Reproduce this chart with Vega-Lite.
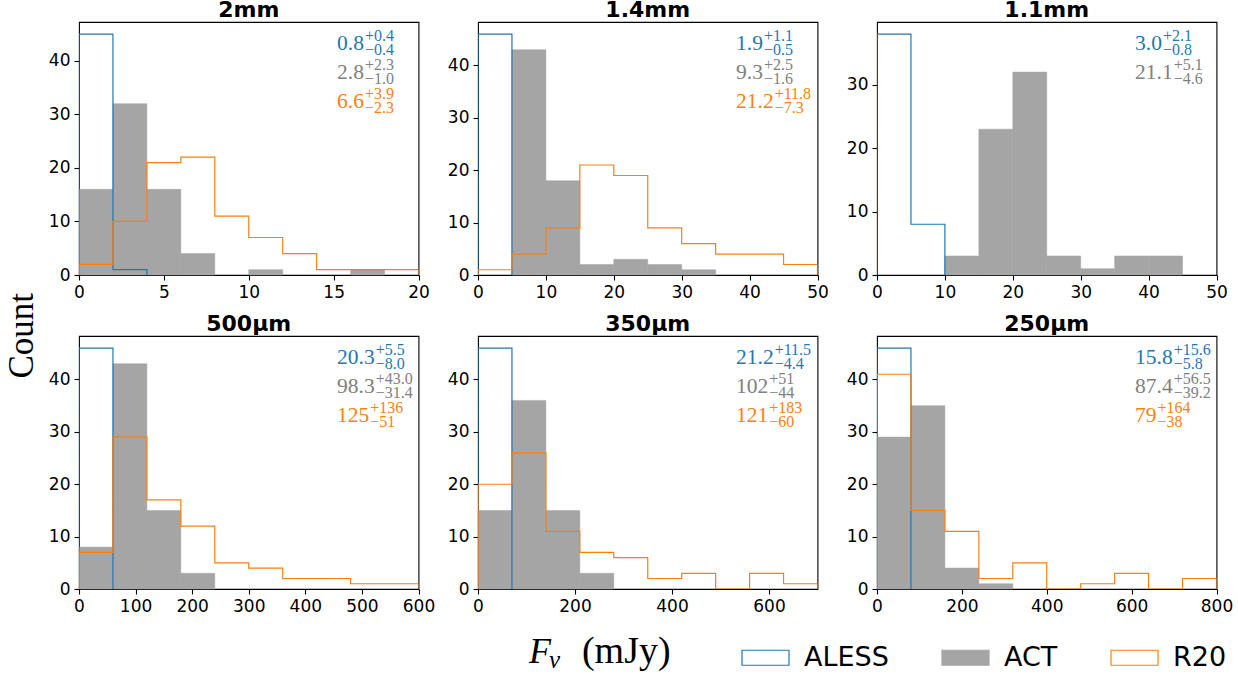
{
"$schema": "https://vega.github.io/schema/vega-lite/v6.json",
"padding": {"left": 4, "top": -3, "right": 5, "bottom": 2},
"background": "white",
"title": {"text": "Count", "orient": "left", "anchor": "middle", "font": "Liberation Serif", "fontSize": 35, "fontWeight": "normal", "baseline": "alphabetic", "offset": -20, "color": "#000000", "frame": "bounds"},
"datasets": {
"act": [
{"panel":"2mm","series":"ACT","x0":0,"x1":2,"count":16},{"panel":"2mm","series":"ACT","x0":2,"x1":4,"count":32},{"panel":"2mm","series":"ACT","x0":4,"x1":6,"count":16},{"panel":"2mm","series":"ACT","x0":6,"x1":8,"count":4},{"panel":"2mm","series":"ACT","x0":10,"x1":12,"count":1},{"panel":"2mm","series":"ACT","x0":16,"x1":18,"count":1},
{"panel":"1.4mm","series":"ACT","x0":5,"x1":10,"count":43},{"panel":"1.4mm","series":"ACT","x0":10,"x1":15,"count":18},{"panel":"1.4mm","series":"ACT","x0":15,"x1":20,"count":2},{"panel":"1.4mm","series":"ACT","x0":20,"x1":25,"count":3},{"panel":"1.4mm","series":"ACT","x0":25,"x1":30,"count":2},{"panel":"1.4mm","series":"ACT","x0":30,"x1":35,"count":1},
{"panel":"1.1mm","series":"ACT","x0":10,"x1":15,"count":3},{"panel":"1.1mm","series":"ACT","x0":15,"x1":20,"count":23},{"panel":"1.1mm","series":"ACT","x0":20,"x1":25,"count":32},{"panel":"1.1mm","series":"ACT","x0":25,"x1":30,"count":3},{"panel":"1.1mm","series":"ACT","x0":30,"x1":35,"count":1},{"panel":"1.1mm","series":"ACT","x0":35,"x1":40,"count":3},{"panel":"1.1mm","series":"ACT","x0":40,"x1":45,"count":3},
{"panel":"500","series":"ACT","x0":0,"x1":60,"count":8},{"panel":"500","series":"ACT","x0":60,"x1":120,"count":43},{"panel":"500","series":"ACT","x0":120,"x1":180,"count":15},{"panel":"500","series":"ACT","x0":180,"x1":240,"count":3},
{"panel":"350","series":"ACT","x0":0,"x1":70,"count":15},{"panel":"350","series":"ACT","x0":70,"x1":140,"count":36},{"panel":"350","series":"ACT","x0":140,"x1":210,"count":15},{"panel":"350","series":"ACT","x0":210,"x1":280,"count":3},
{"panel":"250","series":"ACT","x0":0,"x1":80,"count":29},{"panel":"250","series":"ACT","x0":80,"x1":160,"count":35},{"panel":"250","series":"ACT","x0":160,"x1":240,"count":4},{"panel":"250","series":"ACT","x0":240,"x1":320,"count":1}
],
"steps": [
{"panel":"2mm","series":"ALESS","i":0,"x":0,"y":0},{"panel":"2mm","series":"ALESS","i":1,"x":0,"y":45},{"panel":"2mm","series":"ALESS","i":2,"x":2,"y":1},{"panel":"2mm","series":"ALESS","i":3,"x":4,"y":0},
{"panel":"2mm","series":"R20","i":0,"x":0,"y":0},{"panel":"2mm","series":"R20","i":1,"x":0,"y":2},{"panel":"2mm","series":"R20","i":2,"x":2,"y":10},{"panel":"2mm","series":"R20","i":3,"x":4,"y":21},{"panel":"2mm","series":"R20","i":4,"x":6,"y":22},{"panel":"2mm","series":"R20","i":5,"x":8,"y":11},{"panel":"2mm","series":"R20","i":6,"x":10,"y":7},{"panel":"2mm","series":"R20","i":7,"x":12,"y":4},{"panel":"2mm","series":"R20","i":8,"x":14,"y":1},{"panel":"2mm","series":"R20","i":9,"x":16,"y":1},{"panel":"2mm","series":"R20","i":10,"x":18,"y":1},{"panel":"2mm","series":"R20","i":11,"x":20,"y":0},
{"panel":"1.4mm","series":"ALESS","i":0,"x":0,"y":0},{"panel":"1.4mm","series":"ALESS","i":1,"x":0,"y":46},{"panel":"1.4mm","series":"ALESS","i":2,"x":5,"y":0},
{"panel":"1.4mm","series":"R20","i":0,"x":0,"y":0},{"panel":"1.4mm","series":"R20","i":1,"x":0,"y":1},{"panel":"1.4mm","series":"R20","i":2,"x":5,"y":4},{"panel":"1.4mm","series":"R20","i":3,"x":10,"y":9},{"panel":"1.4mm","series":"R20","i":4,"x":15,"y":21},{"panel":"1.4mm","series":"R20","i":5,"x":20,"y":19},{"panel":"1.4mm","series":"R20","i":6,"x":25,"y":9},{"panel":"1.4mm","series":"R20","i":7,"x":30,"y":6},{"panel":"1.4mm","series":"R20","i":8,"x":35,"y":4},{"panel":"1.4mm","series":"R20","i":9,"x":40,"y":4},{"panel":"1.4mm","series":"R20","i":10,"x":45,"y":2},{"panel":"1.4mm","series":"R20","i":11,"x":50,"y":0},
{"panel":"1.1mm","series":"ALESS","i":0,"x":0,"y":0},{"panel":"1.1mm","series":"ALESS","i":1,"x":0,"y":38},{"panel":"1.1mm","series":"ALESS","i":2,"x":5,"y":8},{"panel":"1.1mm","series":"ALESS","i":3,"x":10,"y":0},
{"panel":"500","series":"ALESS","i":0,"x":0,"y":0},{"panel":"500","series":"ALESS","i":1,"x":0,"y":46},{"panel":"500","series":"ALESS","i":2,"x":60,"y":0},
{"panel":"500","series":"R20","i":0,"x":0,"y":0},{"panel":"500","series":"R20","i":1,"x":0,"y":7},{"panel":"500","series":"R20","i":2,"x":60,"y":29},{"panel":"500","series":"R20","i":3,"x":120,"y":17},{"panel":"500","series":"R20","i":4,"x":180,"y":12},{"panel":"500","series":"R20","i":5,"x":240,"y":5},{"panel":"500","series":"R20","i":6,"x":300,"y":4},{"panel":"500","series":"R20","i":7,"x":360,"y":2},{"panel":"500","series":"R20","i":8,"x":420,"y":2},{"panel":"500","series":"R20","i":9,"x":480,"y":1},{"panel":"500","series":"R20","i":10,"x":540,"y":1},{"panel":"500","series":"R20","i":11,"x":600,"y":0},
{"panel":"350","series":"ALESS","i":0,"x":0,"y":0},{"panel":"350","series":"ALESS","i":1,"x":0,"y":46},{"panel":"350","series":"ALESS","i":2,"x":70,"y":0},
{"panel":"350","series":"R20","i":0,"x":0,"y":0},{"panel":"350","series":"R20","i":1,"x":0,"y":20},{"panel":"350","series":"R20","i":2,"x":70,"y":26},{"panel":"350","series":"R20","i":3,"x":140,"y":11},{"panel":"350","series":"R20","i":4,"x":210,"y":7},{"panel":"350","series":"R20","i":5,"x":280,"y":6},{"panel":"350","series":"R20","i":6,"x":350,"y":2},{"panel":"350","series":"R20","i":7,"x":420,"y":3},{"panel":"350","series":"R20","i":8,"x":490,"y":0},{"panel":"350","series":"R20","i":9,"x":560,"y":3},{"panel":"350","series":"R20","i":10,"x":630,"y":1},{"panel":"350","series":"R20","i":11,"x":700,"y":0},
{"panel":"250","series":"ALESS","i":0,"x":0,"y":0},{"panel":"250","series":"ALESS","i":1,"x":0,"y":46},{"panel":"250","series":"ALESS","i":2,"x":80,"y":0},
{"panel":"250","series":"R20","i":0,"x":0,"y":0},{"panel":"250","series":"R20","i":1,"x":0,"y":41},{"panel":"250","series":"R20","i":2,"x":80,"y":15},{"panel":"250","series":"R20","i":3,"x":160,"y":11},{"panel":"250","series":"R20","i":4,"x":240,"y":2},{"panel":"250","series":"R20","i":5,"x":320,"y":5},{"panel":"250","series":"R20","i":6,"x":400,"y":0},{"panel":"250","series":"R20","i":7,"x":480,"y":1},{"panel":"250","series":"R20","i":8,"x":560,"y":3},{"panel":"250","series":"R20","i":9,"x":640,"y":0},{"panel":"250","series":"R20","i":10,"x":720,"y":2},{"panel":"250","series":"R20","i":11,"x":800,"y":0}
],
"ann": [
{"panel":"2mm","series":"ALESS","row":1,"main":"0.8","sup":"+0.4","sub":"−0.4"},{"panel":"2mm","series":"ACT","row":2,"main":"2.8","sup":"+2.3","sub":"−1.0"},{"panel":"2mm","series":"R20","row":3,"main":"6.6","sup":"+3.9","sub":"−2.3"},
{"panel":"1.4mm","series":"ALESS","row":1,"main":"1.9","sup":"+1.1","sub":"−0.5"},{"panel":"1.4mm","series":"ACT","row":2,"main":"9.3","sup":"+2.5","sub":"−1.6"},{"panel":"1.4mm","series":"R20","row":3,"main":"21.2","sup":"+11.8","sub":"−7.3"},
{"panel":"1.1mm","series":"ALESS","row":1,"main":"3.0","sup":"+2.1","sub":"−0.8"},{"panel":"1.1mm","series":"ACT","row":2,"main":"21.1","sup":"+5.1","sub":"−4.6"},
{"panel":"500","series":"ALESS","row":1,"main":"20.3","sup":"+5.5","sub":"−8.0"},{"panel":"500","series":"ACT","row":2,"main":"98.3","sup":"+43.0","sub":"−31.4"},{"panel":"500","series":"R20","row":3,"main":"125","sup":"+136","sub":"−51"},
{"panel":"350","series":"ALESS","row":1,"main":"21.2","sup":"+11.5","sub":"−4.4"},{"panel":"350","series":"ACT","row":2,"main":"102","sup":"+51","sub":"−44"},{"panel":"350","series":"R20","row":3,"main":"121","sup":"+183","sub":"−60"},
{"panel":"250","series":"ALESS","row":1,"main":"15.8","sup":"+15.6","sub":"−5.8"},{"panel":"250","series":"ACT","row":2,"main":"87.4","sup":"+56.5","sub":"−39.2"},{"panel":"250","series":"R20","row":3,"main":"79","sup":"+164","sub":"−38"}
],
"xlab": [{"t":"x"}]
},
"columns": 3,
"bounds": "flush",
"spacing": {"row": 61, "column": 59},
"concat": [
{"width": 339.5, "height": 253, "title": {"text": "2mm"},
 "resolve": {"scale": {"y": "independent"}},
 "layer": [
  {"data": {"name": "act"}, "transform": [{"filter": "datum.panel === '2mm'"}], "mark": {"type": "rect", "stroke": "#a5a5a5", "strokeWidth": 0.5},
   "encoding": {"x": {"field": "x0", "type": "quantitative", "title": null, "scale": {"domain": [0, 20], "nice": false, "zero": false}, "axis": {"values": [0,5,10,15,20]}},
    "x2": {"field": "x1"},
    "y": {"field": "count", "type": "quantitative", "title": null, "scale": {"domain": [0, 47.25], "nice": false}, "axis": {"values": [0,10,20,30,40]}},
    "y2": {"datum": 0},
    "fill": {"field": "series", "type": "nominal", "title": null, "scale": {"domain": ["ALESS","ACT","R20"], "range": ["#ffffff","#a5a5a5","#ffffff"]}, "legend": {"symbolType": "M-1,-0.32H1V0.32H-1Z", "symbolSize": 2209, "direction": "horizontal", "orient": "none", "legendX": 662, "legendY": 611}}}},
  {"data": {"name": "steps"}, "transform": [{"filter": "datum.panel === '2mm'"}], "mark": {"type": "line", "interpolate": "step-after", "strokeWidth": 1.2, "clip": true},
   "encoding": {"x": {"field": "x", "type": "quantitative", "scale": {"domain": [0, 20], "nice": false, "zero": false}},
    "y": {"field": "y", "type": "quantitative", "scale": {"domain": [0, 47.25], "nice": false}, "axis": null},
    "order": {"field": "i", "type": "quantitative"},
    "stroke": {"field": "series", "type": "nominal", "title": null, "scale": {"domain": ["ALESS","ACT","R20"], "range": ["#1f77b4","#a5a5a5","#ff7f0e"]}, "legend": {"symbolType": "M-1,-0.32H1V0.32H-1Z", "symbolSize": 2209, "direction": "horizontal", "orient": "none", "legendX": 662, "legendY": 611}}}},
  {"data": {"name": "ann"}, "transform": [{"filter": "datum.panel === '2mm'"}], "mark": {"type": "text", "align": "left", "baseline": "alphabetic", "font": "Liberation Serif", "fontSize": 21.5, "dy": -1},
   "encoding": {"x": {"datum": 15.2, "type": "quantitative"}, "y": {"field": "row", "type": "quantitative", "scale": {"domain": [0, 8.724], "reverse": true, "nice": false, "zero": false}, "axis": null}, "text": {"field": "main"}, "color": {"field": "series", "type": "nominal", "scale": {"domain": ["ALESS","ACT","R20"], "range": ["#1f77b4","#808080","#ff7f0e"]}, "legend": null}}},
  {"data": {"name": "ann"}, "transform": [{"filter": "datum.panel === '2mm'"}], "mark": {"type": "text", "align": "left", "baseline": "alphabetic", "font": "Liberation Serif", "fontSize": 16, "dy": -10, "dx": {"expr": "10.75*(length(datum.main) - (indexof(datum.main, '.') >= 0 ? 0.5 : 0)) + 1"}},
   "encoding": {"x": {"datum": 15.2, "type": "quantitative"}, "y": {"field": "row", "type": "quantitative", "scale": {"domain": [0, 8.724], "reverse": true, "nice": false, "zero": false}, "axis": null}, "text": {"field": "sup"}, "color": {"field": "series", "type": "nominal", "legend": null}}},
  {"data": {"name": "ann"}, "transform": [{"filter": "datum.panel === '2mm'"}], "mark": {"type": "text", "align": "left", "baseline": "alphabetic", "font": "Liberation Serif", "fontSize": 16, "dy": 4, "dx": {"expr": "10.75*(length(datum.main) - (indexof(datum.main, '.') >= 0 ? 0.5 : 0)) + 1"}},
   "encoding": {"x": {"datum": 15.2, "type": "quantitative"}, "y": {"field": "row", "type": "quantitative", "scale": {"domain": [0, 8.724], "reverse": true, "nice": false, "zero": false}, "axis": null}, "text": {"field": "sub"}, "color": {"field": "series", "type": "nominal", "legend": null}}}
 ]},
{"width": 339.5, "height": 253, "title": {"text": "1.4mm"},
 "resolve": {"scale": {"y": "independent"}},
 "layer": [
  {"data": {"name": "act"}, "transform": [{"filter": "datum.panel === '1.4mm'"}], "mark": {"type": "rect", "stroke": "#a5a5a5", "strokeWidth": 0.5},
   "encoding": {"x": {"field": "x0", "type": "quantitative", "title": null, "scale": {"domain": [0, 50], "nice": false, "zero": false}, "axis": {"values": [0,10,20,30,40,50]}},
    "x2": {"field": "x1"},
    "y": {"field": "count", "type": "quantitative", "title": null, "scale": {"domain": [0, 48.3], "nice": false}, "axis": {"values": [0,10,20,30,40]}},
    "y2": {"datum": 0},
    "fill": {"field": "series", "type": "nominal", "title": null, "legend": {"symbolType": "M-1,-0.32H1V0.32H-1Z", "symbolSize": 2209, "direction": "horizontal", "orient": "none", "legendX": 662, "legendY": 611}}}},
  {"data": {"name": "steps"}, "transform": [{"filter": "datum.panel === '1.4mm'"}], "mark": {"type": "line", "interpolate": "step-after", "strokeWidth": 1.2, "clip": true},
   "encoding": {"x": {"field": "x", "type": "quantitative", "scale": {"domain": [0, 50], "nice": false, "zero": false}},
    "y": {"field": "y", "type": "quantitative", "scale": {"domain": [0, 48.3], "nice": false}, "axis": null},
    "order": {"field": "i", "type": "quantitative"},
    "stroke": {"field": "series", "type": "nominal", "title": null, "legend": {"symbolType": "M-1,-0.32H1V0.32H-1Z", "symbolSize": 2209, "direction": "horizontal", "orient": "none", "legendX": 662, "legendY": 611}}}},
  {"data": {"name": "ann"}, "transform": [{"filter": "datum.panel === '1.4mm'"}], "mark": {"type": "text", "align": "left", "baseline": "alphabetic", "font": "Liberation Serif", "fontSize": 21.5, "dy": -1},
   "encoding": {"x": {"datum": 38, "type": "quantitative"}, "y": {"field": "row", "type": "quantitative", "scale": {"domain": [0, 8.724], "reverse": true, "nice": false, "zero": false}, "axis": null}, "text": {"field": "main"}, "color": {"field": "series", "type": "nominal", "legend": null}}},
  {"data": {"name": "ann"}, "transform": [{"filter": "datum.panel === '1.4mm'"}], "mark": {"type": "text", "align": "left", "baseline": "alphabetic", "font": "Liberation Serif", "fontSize": 16, "dy": -10, "dx": {"expr": "10.75*(length(datum.main) - (indexof(datum.main, '.') >= 0 ? 0.5 : 0)) + 1"}},
   "encoding": {"x": {"datum": 38, "type": "quantitative"}, "y": {"field": "row", "type": "quantitative", "scale": {"domain": [0, 8.724], "reverse": true, "nice": false, "zero": false}, "axis": null}, "text": {"field": "sup"}, "color": {"field": "series", "type": "nominal", "legend": null}}},
  {"data": {"name": "ann"}, "transform": [{"filter": "datum.panel === '1.4mm'"}], "mark": {"type": "text", "align": "left", "baseline": "alphabetic", "font": "Liberation Serif", "fontSize": 16, "dy": 4, "dx": {"expr": "10.75*(length(datum.main) - (indexof(datum.main, '.') >= 0 ? 0.5 : 0)) + 1"}},
   "encoding": {"x": {"datum": 38, "type": "quantitative"}, "y": {"field": "row", "type": "quantitative", "scale": {"domain": [0, 8.724], "reverse": true, "nice": false, "zero": false}, "axis": null}, "text": {"field": "sub"}, "color": {"field": "series", "type": "nominal", "legend": null}}}
 ]},
{"width": 339.5, "height": 253, "title": {"text": "1.1mm"},
 "resolve": {"scale": {"y": "independent"}},
 "layer": [
  {"data": {"name": "act"}, "transform": [{"filter": "datum.panel === '1.1mm'"}], "mark": {"type": "rect", "stroke": "#a5a5a5", "strokeWidth": 0.5},
   "encoding": {"x": {"field": "x0", "type": "quantitative", "title": null, "scale": {"domain": [0, 50], "nice": false, "zero": false}, "axis": {"values": [0,10,20,30,40,50]}},
    "x2": {"field": "x1"},
    "y": {"field": "count", "type": "quantitative", "title": null, "scale": {"domain": [0, 39.9], "nice": false}, "axis": {"values": [0,10,20,30]}},
    "y2": {"datum": 0},
    "fill": {"field": "series", "type": "nominal", "title": null, "legend": {"symbolType": "M-1,-0.32H1V0.32H-1Z", "symbolSize": 2209, "direction": "horizontal", "orient": "none", "legendX": 662, "legendY": 611}}}},
  {"data": {"name": "steps"}, "transform": [{"filter": "datum.panel === '1.1mm'"}], "mark": {"type": "line", "interpolate": "step-after", "strokeWidth": 1.2, "clip": true},
   "encoding": {"x": {"field": "x", "type": "quantitative", "scale": {"domain": [0, 50], "nice": false, "zero": false}},
    "y": {"field": "y", "type": "quantitative", "scale": {"domain": [0, 39.9], "nice": false}, "axis": null},
    "order": {"field": "i", "type": "quantitative"},
    "stroke": {"field": "series", "type": "nominal", "title": null, "legend": {"symbolType": "M-1,-0.32H1V0.32H-1Z", "symbolSize": 2209, "direction": "horizontal", "orient": "none", "legendX": 662, "legendY": 611}}}},
  {"data": {"name": "ann"}, "transform": [{"filter": "datum.panel === '1.1mm'"}], "mark": {"type": "text", "align": "left", "baseline": "alphabetic", "font": "Liberation Serif", "fontSize": 21.5, "dy": -1},
   "encoding": {"x": {"datum": 38, "type": "quantitative"}, "y": {"field": "row", "type": "quantitative", "scale": {"domain": [0, 8.724], "reverse": true, "nice": false, "zero": false}, "axis": null}, "text": {"field": "main"}, "color": {"field": "series", "type": "nominal", "legend": null}}},
  {"data": {"name": "ann"}, "transform": [{"filter": "datum.panel === '1.1mm'"}], "mark": {"type": "text", "align": "left", "baseline": "alphabetic", "font": "Liberation Serif", "fontSize": 16, "dy": -10, "dx": {"expr": "10.75*(length(datum.main) - (indexof(datum.main, '.') >= 0 ? 0.5 : 0)) + 1"}},
   "encoding": {"x": {"datum": 38, "type": "quantitative"}, "y": {"field": "row", "type": "quantitative", "scale": {"domain": [0, 8.724], "reverse": true, "nice": false, "zero": false}, "axis": null}, "text": {"field": "sup"}, "color": {"field": "series", "type": "nominal", "legend": null}}},
  {"data": {"name": "ann"}, "transform": [{"filter": "datum.panel === '1.1mm'"}], "mark": {"type": "text", "align": "left", "baseline": "alphabetic", "font": "Liberation Serif", "fontSize": 16, "dy": 4, "dx": {"expr": "10.75*(length(datum.main) - (indexof(datum.main, '.') >= 0 ? 0.5 : 0)) + 1"}},
   "encoding": {"x": {"datum": 38, "type": "quantitative"}, "y": {"field": "row", "type": "quantitative", "scale": {"domain": [0, 8.724], "reverse": true, "nice": false, "zero": false}, "axis": null}, "text": {"field": "sub"}, "color": {"field": "series", "type": "nominal", "legend": null}}}
 ]},
{"width": 339.5, "height": 253, "title": {"text": "500μm"},
 "resolve": {"scale": {"y": "independent"}},
 "layer": [
  {"data": {"name": "act"}, "transform": [{"filter": "datum.panel === '500'"}], "mark": {"type": "rect", "stroke": "#a5a5a5", "strokeWidth": 0.5},
   "encoding": {"x": {"field": "x0", "type": "quantitative", "title": null, "scale": {"domain": [0, 600], "nice": false, "zero": false}, "axis": {"values": [0,100,200,300,400,500,600]}},
    "x2": {"field": "x1"},
    "y": {"field": "count", "type": "quantitative", "title": null, "scale": {"domain": [0, 48.3], "nice": false}, "axis": {"values": [0,10,20,30,40]}},
    "y2": {"datum": 0},
    "fill": {"field": "series", "type": "nominal", "title": null, "legend": {"symbolType": "M-1,-0.32H1V0.32H-1Z", "symbolSize": 2209, "direction": "horizontal", "orient": "none", "legendX": 662, "legendY": 611}}}},
  {"data": {"name": "steps"}, "transform": [{"filter": "datum.panel === '500'"}], "mark": {"type": "line", "interpolate": "step-after", "strokeWidth": 1.2, "clip": true},
   "encoding": {"x": {"field": "x", "type": "quantitative", "scale": {"domain": [0, 600], "nice": false, "zero": false}},
    "y": {"field": "y", "type": "quantitative", "scale": {"domain": [0, 48.3], "nice": false}, "axis": null},
    "order": {"field": "i", "type": "quantitative"},
    "stroke": {"field": "series", "type": "nominal", "title": null, "legend": {"symbolType": "M-1,-0.32H1V0.32H-1Z", "symbolSize": 2209, "direction": "horizontal", "orient": "none", "legendX": 662, "legendY": 611}}}},
  {"data": {"name": "ann"}, "transform": [{"filter": "datum.panel === '500'"}], "mark": {"type": "text", "align": "left", "baseline": "alphabetic", "font": "Liberation Serif", "fontSize": 21.5, "dy": -1},
   "encoding": {"x": {"datum": 456, "type": "quantitative"}, "y": {"field": "row", "type": "quantitative", "scale": {"domain": [0, 8.724], "reverse": true, "nice": false, "zero": false}, "axis": null}, "text": {"field": "main"}, "color": {"field": "series", "type": "nominal", "legend": null}}},
  {"data": {"name": "ann"}, "transform": [{"filter": "datum.panel === '500'"}], "mark": {"type": "text", "align": "left", "baseline": "alphabetic", "font": "Liberation Serif", "fontSize": 16, "dy": -10, "dx": {"expr": "10.75*(length(datum.main) - (indexof(datum.main, '.') >= 0 ? 0.5 : 0)) + 1"}},
   "encoding": {"x": {"datum": 456, "type": "quantitative"}, "y": {"field": "row", "type": "quantitative", "scale": {"domain": [0, 8.724], "reverse": true, "nice": false, "zero": false}, "axis": null}, "text": {"field": "sup"}, "color": {"field": "series", "type": "nominal", "legend": null}}},
  {"data": {"name": "ann"}, "transform": [{"filter": "datum.panel === '500'"}], "mark": {"type": "text", "align": "left", "baseline": "alphabetic", "font": "Liberation Serif", "fontSize": 16, "dy": 4, "dx": {"expr": "10.75*(length(datum.main) - (indexof(datum.main, '.') >= 0 ? 0.5 : 0)) + 1"}},
   "encoding": {"x": {"datum": 456, "type": "quantitative"}, "y": {"field": "row", "type": "quantitative", "scale": {"domain": [0, 8.724], "reverse": true, "nice": false, "zero": false}, "axis": null}, "text": {"field": "sub"}, "color": {"field": "series", "type": "nominal", "legend": null}}}
 ]},
{"width": 339.5, "height": 253, "title": {"text": "350μm"},
 "resolve": {"scale": {"y": "independent"}},
 "layer": [
  {"data": {"name": "act"}, "transform": [{"filter": "datum.panel === '350'"}], "mark": {"type": "rect", "stroke": "#a5a5a5", "strokeWidth": 0.5},
   "encoding": {"x": {"field": "x0", "type": "quantitative", "title": null, "scale": {"domain": [0, 700], "nice": false, "zero": false}, "axis": {"values": [0,200,400,600]}},
    "x2": {"field": "x1"},
    "y": {"field": "count", "type": "quantitative", "title": null, "scale": {"domain": [0, 48.3], "nice": false}, "axis": {"values": [0,10,20,30,40]}},
    "y2": {"datum": 0},
    "fill": {"field": "series", "type": "nominal", "title": null, "legend": {"symbolType": "M-1,-0.32H1V0.32H-1Z", "symbolSize": 2209, "direction": "horizontal", "orient": "none", "legendX": 662, "legendY": 611}}}},
  {"data": {"name": "steps"}, "transform": [{"filter": "datum.panel === '350'"}], "mark": {"type": "line", "interpolate": "step-after", "strokeWidth": 1.2, "clip": true},
   "encoding": {"x": {"field": "x", "type": "quantitative", "scale": {"domain": [0, 700], "nice": false, "zero": false}},
    "y": {"field": "y", "type": "quantitative", "scale": {"domain": [0, 48.3], "nice": false}, "axis": null},
    "order": {"field": "i", "type": "quantitative"},
    "stroke": {"field": "series", "type": "nominal", "title": null, "legend": {"symbolType": "M-1,-0.32H1V0.32H-1Z", "symbolSize": 2209, "direction": "horizontal", "orient": "none", "legendX": 662, "legendY": 611}}}},
  {"data": {"name": "ann"}, "transform": [{"filter": "datum.panel === '350'"}], "mark": {"type": "text", "align": "left", "baseline": "alphabetic", "font": "Liberation Serif", "fontSize": 21.5, "dy": -1},
   "encoding": {"x": {"datum": 532, "type": "quantitative"}, "y": {"field": "row", "type": "quantitative", "scale": {"domain": [0, 8.724], "reverse": true, "nice": false, "zero": false}, "axis": null}, "text": {"field": "main"}, "color": {"field": "series", "type": "nominal", "legend": null}}},
  {"data": {"name": "ann"}, "transform": [{"filter": "datum.panel === '350'"}], "mark": {"type": "text", "align": "left", "baseline": "alphabetic", "font": "Liberation Serif", "fontSize": 16, "dy": -10, "dx": {"expr": "10.75*(length(datum.main) - (indexof(datum.main, '.') >= 0 ? 0.5 : 0)) + 1"}},
   "encoding": {"x": {"datum": 532, "type": "quantitative"}, "y": {"field": "row", "type": "quantitative", "scale": {"domain": [0, 8.724], "reverse": true, "nice": false, "zero": false}, "axis": null}, "text": {"field": "sup"}, "color": {"field": "series", "type": "nominal", "legend": null}}},
  {"data": {"name": "ann"}, "transform": [{"filter": "datum.panel === '350'"}], "mark": {"type": "text", "align": "left", "baseline": "alphabetic", "font": "Liberation Serif", "fontSize": 16, "dy": 4, "dx": {"expr": "10.75*(length(datum.main) - (indexof(datum.main, '.') >= 0 ? 0.5 : 0)) + 1"}},
   "encoding": {"x": {"datum": 532, "type": "quantitative"}, "y": {"field": "row", "type": "quantitative", "scale": {"domain": [0, 8.724], "reverse": true, "nice": false, "zero": false}, "axis": null}, "text": {"field": "sub"}, "color": {"field": "series", "type": "nominal", "legend": null}}},
  {"data": {"name": "xlab"}, "mark": {"type": "text", "text": "F", "align": "left", "baseline": "alphabetic", "font": "Liberation Serif", "fontSize": 36, "fontStyle": "italic", "dy": 74, "color": "#000000"},
   "encoding": {"x": {"datum": 105, "type": "quantitative"}, "y": {"datum": 0, "type": "quantitative", "scale": {"domain": [0, 48.3], "nice": false}, "axis": null}}},
  {"data": {"name": "xlab"}, "mark": {"type": "text", "text": "ν", "align": "left", "baseline": "alphabetic", "font": "Liberation Serif", "fontSize": 25, "fontStyle": "italic", "dx": 20, "dy": 79, "color": "#000000"},
   "encoding": {"x": {"datum": 105, "type": "quantitative"}, "y": {"datum": 0, "type": "quantitative", "scale": {"domain": [0, 48.3], "nice": false}, "axis": null}}},
  {"data": {"name": "xlab"}, "mark": {"type": "text", "text": "(mJy)", "align": "left", "baseline": "alphabetic", "font": "Liberation Serif", "fontSize": 38, "dx": 53, "dy": 74, "color": "#000000"},
   "encoding": {"x": {"datum": 105, "type": "quantitative"}, "y": {"datum": 0, "type": "quantitative", "scale": {"domain": [0, 48.3], "nice": false}, "axis": null}}}
 ]},
{"width": 339.5, "height": 253, "title": {"text": "250μm"},
 "resolve": {"scale": {"y": "independent"}},
 "layer": [
  {"data": {"name": "act"}, "transform": [{"filter": "datum.panel === '250'"}], "mark": {"type": "rect", "stroke": "#a5a5a5", "strokeWidth": 0.5},
   "encoding": {"x": {"field": "x0", "type": "quantitative", "title": null, "scale": {"domain": [0, 800], "nice": false, "zero": false}, "axis": {"values": [0,200,400,600,800]}},
    "x2": {"field": "x1"},
    "y": {"field": "count", "type": "quantitative", "title": null, "scale": {"domain": [0, 48.3], "nice": false}, "axis": {"values": [0,10,20,30,40]}},
    "y2": {"datum": 0},
    "fill": {"field": "series", "type": "nominal", "title": null, "legend": {"symbolType": "M-1,-0.32H1V0.32H-1Z", "symbolSize": 2209, "direction": "horizontal", "orient": "none", "legendX": 662, "legendY": 611}}}},
  {"data": {"name": "steps"}, "transform": [{"filter": "datum.panel === '250'"}], "mark": {"type": "line", "interpolate": "step-after", "strokeWidth": 1.2, "clip": true},
   "encoding": {"x": {"field": "x", "type": "quantitative", "scale": {"domain": [0, 800], "nice": false, "zero": false}},
    "y": {"field": "y", "type": "quantitative", "scale": {"domain": [0, 48.3], "nice": false}, "axis": null},
    "order": {"field": "i", "type": "quantitative"},
    "stroke": {"field": "series", "type": "nominal", "title": null, "legend": {"symbolType": "M-1,-0.32H1V0.32H-1Z", "symbolSize": 2209, "direction": "horizontal", "orient": "none", "legendX": 662, "legendY": 611}}}},
  {"data": {"name": "ann"}, "transform": [{"filter": "datum.panel === '250'"}], "mark": {"type": "text", "align": "left", "baseline": "alphabetic", "font": "Liberation Serif", "fontSize": 21.5, "dy": -1},
   "encoding": {"x": {"datum": 608, "type": "quantitative"}, "y": {"field": "row", "type": "quantitative", "scale": {"domain": [0, 8.724], "reverse": true, "nice": false, "zero": false}, "axis": null}, "text": {"field": "main"}, "color": {"field": "series", "type": "nominal", "legend": null}}},
  {"data": {"name": "ann"}, "transform": [{"filter": "datum.panel === '250'"}], "mark": {"type": "text", "align": "left", "baseline": "alphabetic", "font": "Liberation Serif", "fontSize": 16, "dy": -10, "dx": {"expr": "10.75*(length(datum.main) - (indexof(datum.main, '.') >= 0 ? 0.5 : 0)) + 1"}},
   "encoding": {"x": {"datum": 608, "type": "quantitative"}, "y": {"field": "row", "type": "quantitative", "scale": {"domain": [0, 8.724], "reverse": true, "nice": false, "zero": false}, "axis": null}, "text": {"field": "sup"}, "color": {"field": "series", "type": "nominal", "legend": null}}},
  {"data": {"name": "ann"}, "transform": [{"filter": "datum.panel === '250'"}], "mark": {"type": "text", "align": "left", "baseline": "alphabetic", "font": "Liberation Serif", "fontSize": 16, "dy": 4, "dx": {"expr": "10.75*(length(datum.main) - (indexof(datum.main, '.') >= 0 ? 0.5 : 0)) + 1"}},
   "encoding": {"x": {"datum": 608, "type": "quantitative"}, "y": {"field": "row", "type": "quantitative", "scale": {"domain": [0, 8.724], "reverse": true, "nice": false, "zero": false}, "axis": null}, "text": {"field": "sub"}, "color": {"field": "series", "type": "nominal", "legend": null}}}
 ]}
],
"config": {
 "view": {"stroke": "#000000", "strokeWidth": 1.1},
 "axis": {"domain": false, "grid": false, "labelFont": "DejaVu Sans", "labelFontSize": 17, "labelColor": "#000000", "tickColor": "#000000", "tickSize": 5, "tickWidth": 1.1, "labelPadding": 4, "labelFlush": false, "labelOverlap": false, "labelBound": false},
 "title": {"font": "DejaVu Sans", "fontSize": 22, "fontWeight": "bold", "color": "#000000", "offset": 0.5, "baseline": "alphabetic", "frame": "group"},
 "legend": {"labelFont": "DejaVu Sans", "labelFontSize": 27, "labelColor": "#000000", "labelOffset": 14, "columnPadding": 50, "symbolStrokeWidth": 1.2, "symbolOpacity": 1}
}
}
